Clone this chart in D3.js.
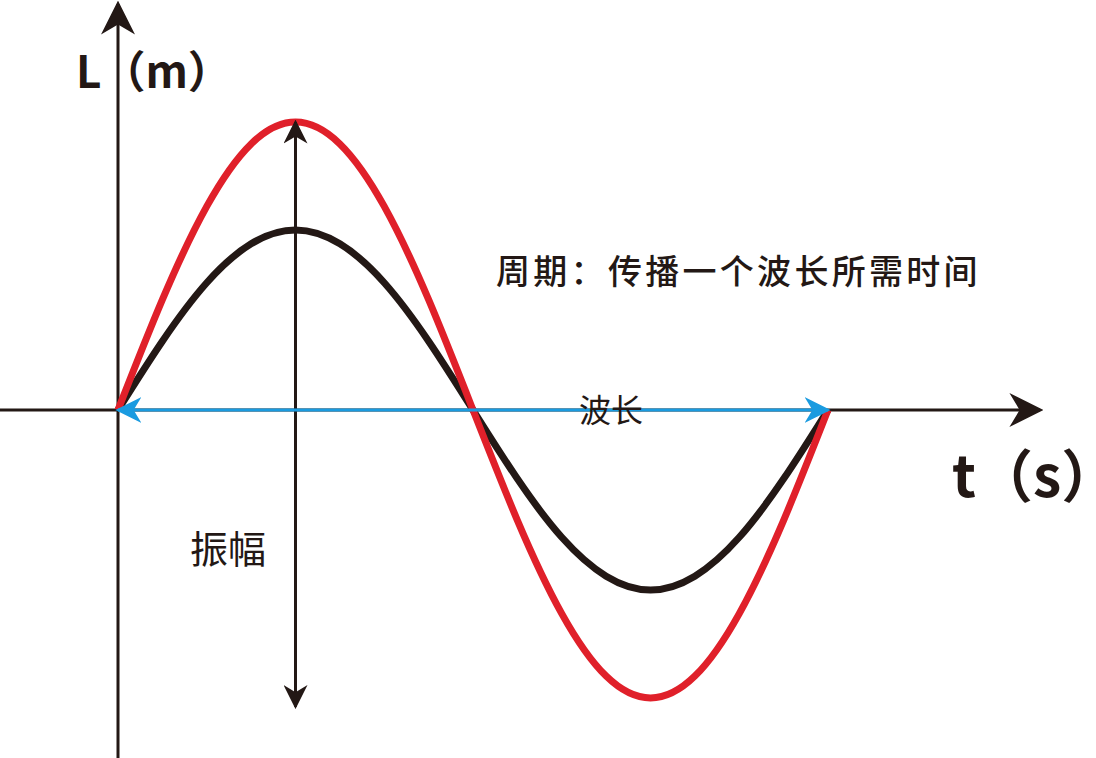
<!DOCTYPE html><html><head><meta charset="utf-8"><script src="https://cdn.jsdelivr.net/npm/d3@7"></script>
<style>body{margin:0;background:#fff}text{font-family:"Noto Sans CJK SC","Noto Sans",sans-serif;fill:#231815}</style></head><body>
<script>
const tVals=[0,0.0625,0.125,0.1875,0.25,0.3125,0.375,0.4375,0.5,0.5625,0.625,0.6875,0.75,0.8125,0.875,0.9375,1];
const redVals=[0,0.383,0.707,0.924,1,0.924,0.707,0.383,0,-0.383,-0.707,-0.924,-1,-0.924,-0.707,-0.383,0];
const blackVals=[0,0.239,0.442,0.577,0.625,0.577,0.442,0.239,0,-0.239,-0.442,-0.577,-0.625,-0.577,-0.442,-0.239,0];
const labels={period:"周期：传播一个波长所需时间",wave:"波长",amp:"振幅",yAxis:"L（m）",xAxis:"t（s）"};
const W=1096,H=758;
const x=d3.scaleLinear().domain([0,1]).range([118,828]);
const y=d3.scaleLinear().domain([-1,1]).range([698,122]);
const svg=d3.select("body").append("svg").attr("width",W).attr("height",H);
const defs=svg.append("defs");
function mk(id,c,s){defs.append("marker").attr("id",id).attr("viewBox","0 0 10 10").attr("refX",9).attr("refY",5)
 .attr("markerWidth",s).attr("markerHeight",s).attr("markerUnits","userSpaceOnUse").attr("orient","auto-start-reverse")
 .append("path").attr("d","M0,0L10,5L0,10L3,5Z").attr("fill",c);}
mk("ak","#231815",34);mk("ab","#1a9be0",26);mk("as","#231815",24);
const ax="#231815";
svg.append("line").attr("x1",0).attr("x2",1040).attr("y1",y(0)).attr("y2",y(0)).attr("stroke",ax).attr("stroke-width",3).attr("marker-end","url(#ak)");
svg.append("line").attr("x1",x(0)).attr("x2",x(0)).attr("y1",758).attr("y2",4).attr("stroke",ax).attr("stroke-width",3).attr("marker-end","url(#ak)");
const line=d3.line().x((d,i)=>x(tVals[i])).y(d=>y(d)).curve(d3.curveNatural);
svg.append("path").attr("d",line(blackVals)).attr("fill","none").attr("stroke","#231815").attr("stroke-width",7);
svg.append("path").attr("d",line(redVals)).attr("fill","none").attr("stroke","#e0202a").attr("stroke-width",7);
svg.append("line").attr("x1",x(0.25)).attr("x2",x(0.25)).attr("y1",y(1)).attr("y2",y(-1.03)).attr("stroke",ax).attr("stroke-width",3)
 .attr("marker-start","url(#as)").attr("marker-end","url(#as)");
svg.append("line").attr("x1",x(0)).attr("x2",x(1)).attr("y1",y(0)).attr("y2",y(0)).attr("stroke","#1a9be0").attr("stroke-width",3)
 .attr("marker-start","url(#ab)").attr("marker-end","url(#ab)");
svg.append("text").attr("x",496).attr("y",284).attr("font-size",34).attr("letter-spacing",3.3).attr("font-weight",500).text(labels.period);
svg.append("text").attr("x",579).attr("y",422).attr("font-size",32).text(labels.wave);
svg.append("text").attr("x",190).attr("y",563).attr("font-size",38).text(labels.amp);
svg.append("text").attr("x",76).attr("y",88).attr("font-size",44).attr("font-weight",700).text(labels.yAxis);
svg.append("text").attr("x",952).attr("y",497).attr("font-size",57).attr("font-weight",700).text(labels.xAxis);
</script></body></html>
